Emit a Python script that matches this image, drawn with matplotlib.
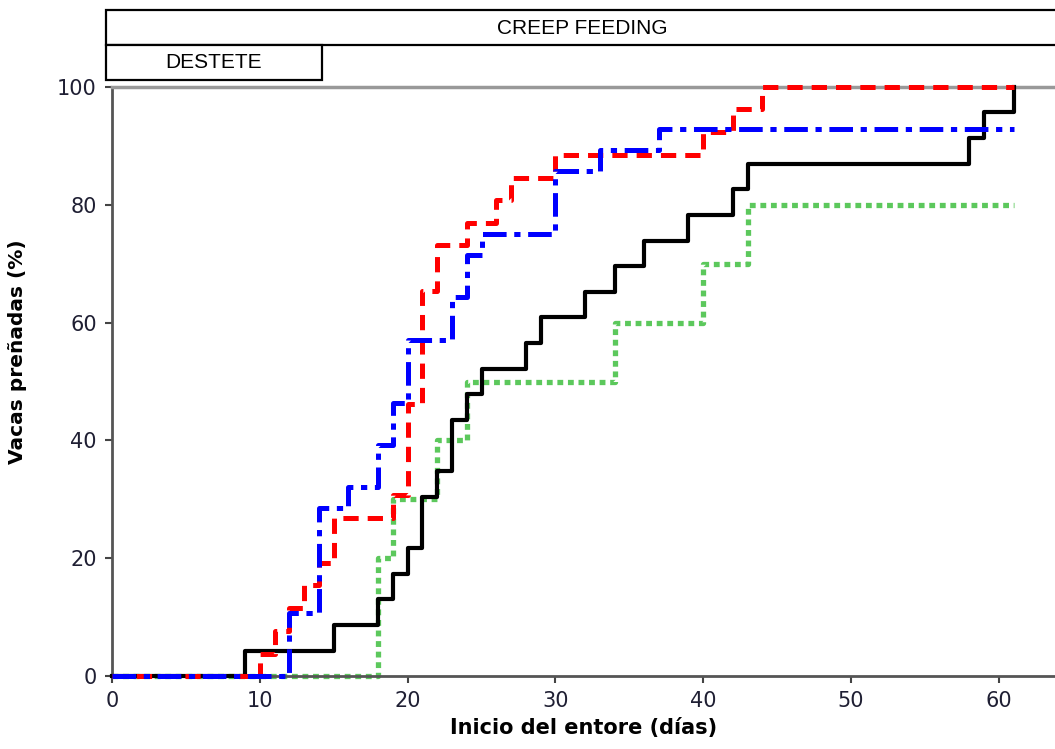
"""Porcentaje acumulado de vacas preñadas según el inicio del entore."""

import matplotlib
matplotlib.use('Agg')
import matplotlib.pyplot as plt
from matplotlib.patches import Rectangle

# Datos: día en que cambia el escalón y % acumulado desde ese día.
black_days = [0, 9, 15, 18, 19, 20, 21, 22, 23, 24, 25, 28, 29, 32, 34, 36, 39, 42, 43, 58, 59, 61]
black_pct = [0, 4.3, 8.7, 13.0, 17.4, 21.7, 30.4, 34.8, 43.5, 47.8, 52.2, 56.5, 60.9, 65.2,
             69.6, 73.9, 78.3, 82.6, 87.0, 91.3, 95.7, 100]

red_days = [0, 10, 11, 12, 13, 14, 15, 19, 20, 21, 22, 24, 26, 27, 30, 40, 42, 44, 61]
red_pct = [0, 3.8, 7.7, 11.5, 15.4, 19.2, 26.9, 30.8, 46.2, 65.4, 73.1, 76.9, 80.8, 84.6,
           88.5, 92.3, 96.2, 100, 100]

blue_days = [0, 12, 14, 16, 18, 19, 20, 23, 24, 25, 30, 33, 37, 61]
blue_pct = [0, 10.7, 28.6, 32.1, 39.3, 46.4, 57.1, 64.3, 71.4, 75.0, 85.7, 89.3, 92.9, 92.9]

green_days = [0, 18, 19, 22, 24, 34, 40, 43, 61]
green_pct = [0, 20, 30, 40, 50, 60, 70, 80, 80]

X_TICKS = [0, 10, 20, 30, 40, 50, 60]
Y_TICKS = [0, 20, 40, 60, 80, 100]

plt.rcParams['font.family'] = ['DejaVu Sans']
plt.rcParams['lines.scale_dashes'] = False

fig = plt.figure(figsize=(10.55, 7.49), dpi=100)
ax = fig.add_axes([112 / 1055, 73 / 749, 943 / 1055, 589 / 749])

# cada serie con su estilo de línea
ax.plot(black_days, black_pct, drawstyle='steps-post', color='black', lw=3.0, clip_on=False, zorder=3)
ax.plot(red_days, red_pct, drawstyle='steps-post', color='#ff0000', lw=3.6,
        linestyle=(0, (11, 6.5)), clip_on=False, zorder=4)
ax.plot(blue_days, blue_pct, drawstyle='steps-post', color='#0000ff', lw=3.6,
        linestyle=(0, (17, 5.5, 4.5, 5.5)), clip_on=False, zorder=5)
ax.plot(green_days, green_pct, drawstyle='steps-post', color='#5cc85c', lw=3.8,
        linestyle=(0, (4.2, 3.4)), clip_on=False, zorder=2)

ax.set_xlim(0, 63.8)
ax.set_ylim(0, 100)
ax.set_xticks(X_TICKS)
ax.set_yticks(Y_TICKS)
ax.tick_params(direction='out', length=5, width=1.5, color='#444444',
               labelsize=15, labelcolor='#1f1f33', pad=6)

for side in ['left', 'bottom']:
    ax.spines[side].set_color('#555555')
    ax.spines[side].set_linewidth(2)
ax.spines['right'].set_visible(False)
ax.spines['top'].set_color('#999999')
ax.spines['top'].set_linewidth(2.5)

ax.set_xlabel('Inicio del entore (días)', fontsize=15, fontweight='bold', labelpad=5)
ax.set_ylabel('Vacas preñadas (%)', fontsize=14.5, fontweight='bold', labelpad=10)
ax.yaxis.set_label_coords(-0.09, 0.55)

# recuadros de los tratamientos encima del gráfico
box_font = ['Liberation Sans Narrow', 'Liberation Sans', 'DejaVu Sans']
fig.add_artist(Rectangle((106 / 1055, 1 - 45 / 749), 1.0, 35 / 749, transform=fig.transFigure,
                         facecolor='white', edgecolor='black', lw=1.6))
fig.add_artist(Rectangle((106 / 1055, 1 - 80 / 749), 216 / 1055, 35 / 749, transform=fig.transFigure,
                         facecolor='white', edgecolor='black', lw=1.6))
fig.text(582 / 1055, 1 - 29 / 749, 'CREEP FEEDING', ha='center', va='center',
         fontsize=15, family=box_font)
fig.text(214 / 1055, 1 - 63 / 749, 'DESTETE', ha='center', va='center',
         fontsize=15, family=box_font)

fig.savefig('out.png', dpi=100)
